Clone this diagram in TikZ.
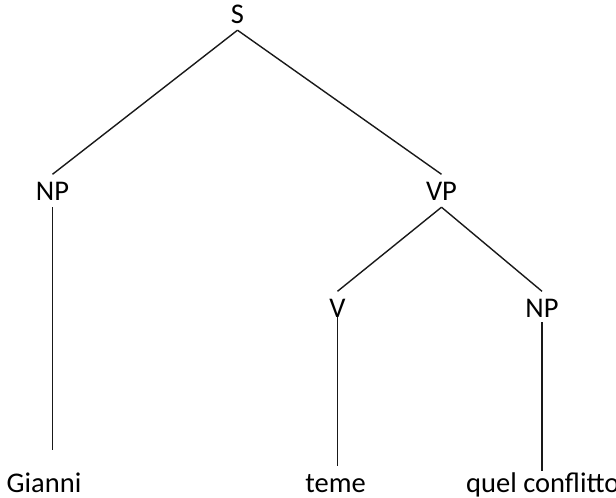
\documentclass[tikz,border=0pt]{standalone}
\usepackage{fontspec}
\setmainfont{Carlito}
\begin{document}
\begin{tikzpicture}[x=1pt,y=-1pt,
  lab/.style={font=\fontsize{28.5}{31}\selectfont, inner xsep=0pt, inner ysep=7pt,
              text height=18.5pt, text depth=0pt, anchor=base},
  edge/.style={draw=black!90, line width=1.4pt}]
\useasboundingbox (0,0) rectangle (616,498);
\node[lab] (S) at (237.5,23) {S};
\node[lab] (NPa) at (52.5,200) {NP};
\node[lab] (VP) at (441.5,200) {VP};
\node[lab] (V) at (337.5,317) {V};
\node[lab] (NPb) at (542,317) {NP};
\node[lab] (Gianni) at (44,492) {Gianni};
\node[lab] (teme) at (335.5,492) {teme};
\node[lab, anchor=base west] (quel) at (466,492) {quel conflitto};
\draw[edge] (S.south) -- (NPa.north);
\draw[edge] (S.south) -- (VP.north);
\draw[edge] (VP.south) -- (V.north);
\draw[edge] (VP.south) -- (NPb.north);
\draw[edge, shorten >=16pt] (NPa.south) -- (NPa.south |- Gianni.north);
\draw[edge, shorten <=-7pt] (V.south) -- (V.south |- teme.north);
\draw[edge, shorten <=-2pt, shorten >=-5pt] (NPb.south) -- (NPb.south |- quel.north);
\end{tikzpicture}
\end{document}
